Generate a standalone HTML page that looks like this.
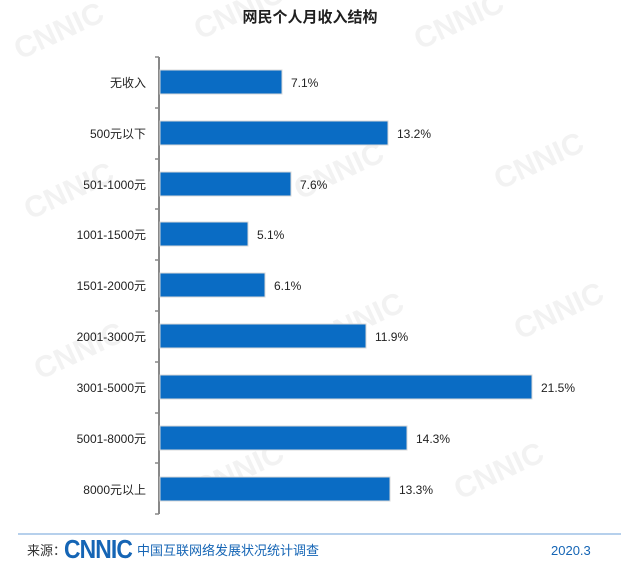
<!DOCTYPE html><html><head><meta charset="utf-8"><style>
body{margin:0;width:621px;height:564px;background:#fff;overflow:hidden;font-family:"Liberation Sans","Noto Sans CJK SC",sans-serif}
</style></head><body>
<svg width="621" height="564" xmlns="http://www.w3.org/2000/svg" font-family="Liberation Sans, Noto Sans CJK SC, sans-serif">
<g fill="#f2f2f2" font-size="30" font-weight="bold">
<text x="20" y="60" transform="rotate(-25 20 60)">CNNIC</text>
<text x="200" y="40" transform="rotate(-25 200 40)">CNNIC</text>
<text x="420" y="50" transform="rotate(-25 420 50)">CNNIC</text>
<text x="30" y="220" transform="rotate(-25 30 220)">CNNIC</text>
<text x="300" y="200" transform="rotate(-25 300 200)">CNNIC</text>
<text x="500" y="190" transform="rotate(-25 500 190)">CNNIC</text>
<text x="40" y="380" transform="rotate(-25 40 380)">CNNIC</text>
<text x="320" y="350" transform="rotate(-25 320 350)">CNNIC</text>
<text x="520" y="340" transform="rotate(-25 520 340)">CNNIC</text>
<text x="200" y="500" transform="rotate(-25 200 500)">CNNIC</text>
<text x="460" y="500" transform="rotate(-25 460 500)">CNNIC</text>
</g>
<text x="310" y="22" text-anchor="middle" font-size="15" font-weight="bold" fill="#1f1f1f">网民个人月收入结构</text>
<line x1="159" y1="57" x2="159" y2="514" stroke="#888" stroke-width="2"/>
<g stroke="#888" stroke-width="1.5">
<line x1="155" y1="57" x2="159" y2="57"/><line x1="155" y1="108" x2="159" y2="108"/><line x1="155" y1="159" x2="159" y2="159"/><line x1="155" y1="209" x2="159" y2="209"/><line x1="155" y1="260" x2="159" y2="260"/><line x1="155" y1="311" x2="159" y2="311"/><line x1="155" y1="362" x2="159" y2="362"/><line x1="155" y1="413" x2="159" y2="413"/><line x1="155" y1="463" x2="159" y2="463"/><line x1="155" y1="514" x2="159" y2="514"/>
</g>
<g fill="#0a6cc4" stroke="#d8d8d8" stroke-width="1">
<rect x="160" y="70" width="122" height="24"/>
<rect x="160" y="121" width="228" height="24"/>
<rect x="160" y="172" width="131" height="24"/>
<rect x="160" y="222" width="88" height="24"/>
<rect x="160" y="273" width="105" height="24"/>
<rect x="160" y="324" width="206" height="24"/>
<rect x="160" y="375" width="372" height="24"/>
<rect x="160" y="426" width="247" height="24"/>
<rect x="160" y="477" width="230" height="24"/>
</g>
<g font-size="12" fill="#222" text-anchor="end">
<text x="146" y="87">无收入</text><text x="146" y="138">500元以下</text><text x="146" y="189">501-1000元</text><text x="146" y="239">1001-1500元</text><text x="146" y="290">1501-2000元</text><text x="146" y="341">2001-3000元</text><text x="146" y="392">3001-5000元</text><text x="146" y="443">5001-8000元</text><text x="146" y="494">8000元以上</text>
</g>
<g font-size="12" fill="#222">
<text x="291" y="87">7.1%</text><text x="397" y="138">13.2%</text><text x="300" y="189">7.6%</text><text x="257" y="239">5.1%</text><text x="274" y="290">6.1%</text><text x="375" y="341">11.9%</text><text x="541" y="392">21.5%</text><text x="416" y="443">14.3%</text><text x="399" y="494">13.3%</text>
</g>
<line x1="18" y1="534" x2="621" y2="534" stroke="#9dc0e6" stroke-width="1.5"/>
<text x="27" y="555" font-size="13" fill="#333">来源：</text>
<text x="64" y="558" font-size="26" font-weight="bold" fill="#1565b5" letter-spacing="-1" textLength="68" lengthAdjust="spacingAndGlyphs">CNNIC</text>
<text x="137" y="555" font-size="13" fill="#1565b5">中国互联网络发展状况统计调查</text>
<text x="551" y="555" font-size="13" fill="#1565b5">2020.3</text>
</svg>
</body></html>
